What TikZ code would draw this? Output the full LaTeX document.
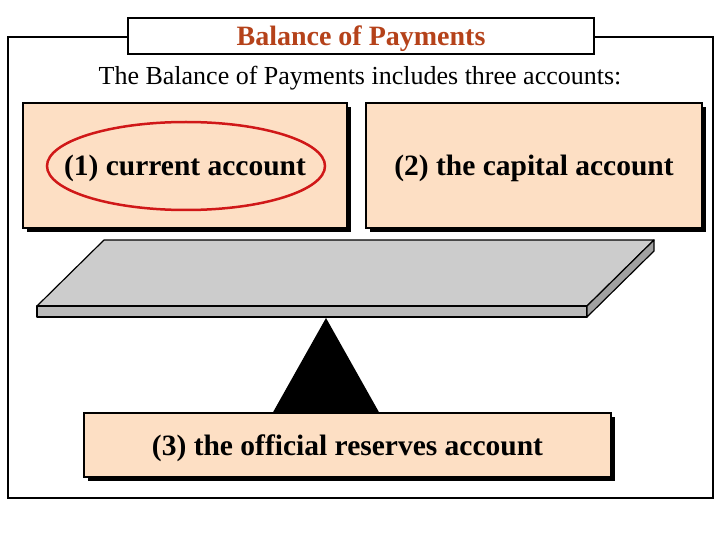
\documentclass[tikz,border=0pt]{standalone}
\usepackage{fontspec}
\setmainfont{Liberation Serif}
\usepackage{tikz}
\usetikzlibrary{positioning,shapes.geometric,shadows}
\definecolor{peach}{HTML}{FDDFC4}
\definecolor{titlered}{HTML}{B5421A}
\definecolor{ringred}{HTML}{D01818}
\begin{document}
\begin{tikzpicture}[x=1pt,y=-1pt,
acct/.style={draw,line width=1.3pt,fill=peach,font=\bfseries\fontsize{29.5}{34}\selectfont,text depth=0pt,
  drop shadow={shadow xshift=4pt,shadow yshift=-4pt,fill=black,opacity=1}},
ttl/.style={draw,line width=2pt,fill=white,text=titlered,font=\bfseries\fontsize{28}{32}\selectfont,text depth=0pt,minimum width=466pt,minimum height=36pt,inner sep=0pt},
plank/.style={draw,line width=1.2pt,line join=round}]
\useasboundingbox (0,0) rectangle (720,540);
% outer frame and heading
\draw[line width=2pt](8,37) rectangle (713,498);
\node[ttl](title) at (361,36){Balance of Payments};
\node[font=\fontsize{26}{30}\selectfont](intro) at (360,78){The Balance of Payments includes three accounts:};
% the two upper accounts
\node[acct,minimum width=324pt,minimum height=125pt](current) at (185,165.5){(1) current account};
\node[acct,minimum width=336pt,minimum height=125pt](capital) at (534,165.5){(2) the capital account};
\node[draw=ringred,line width=2.5pt,ellipse,minimum width=278pt,minimum height=88pt](ring) at (186,166){};
% see-saw
\fill (326,318) -- (272,414) -- (380,414) -- cycle;
\draw[plank,fill=black!20] (37,306) -- (104,240) -- (654,240) -- (587,306) -- cycle;
\draw[plank,fill=black!27] (37,306) rectangle (587,317);
\draw[plank,fill=black!37] (587,306) -- (654,240) -- (654,251) -- (587,317) -- cycle;
% the lower account
\node[acct,minimum width=527pt,minimum height=64pt](reserves) at (347.5,445){(3) the official reserves account};
\end{tikzpicture}
\end{document}
